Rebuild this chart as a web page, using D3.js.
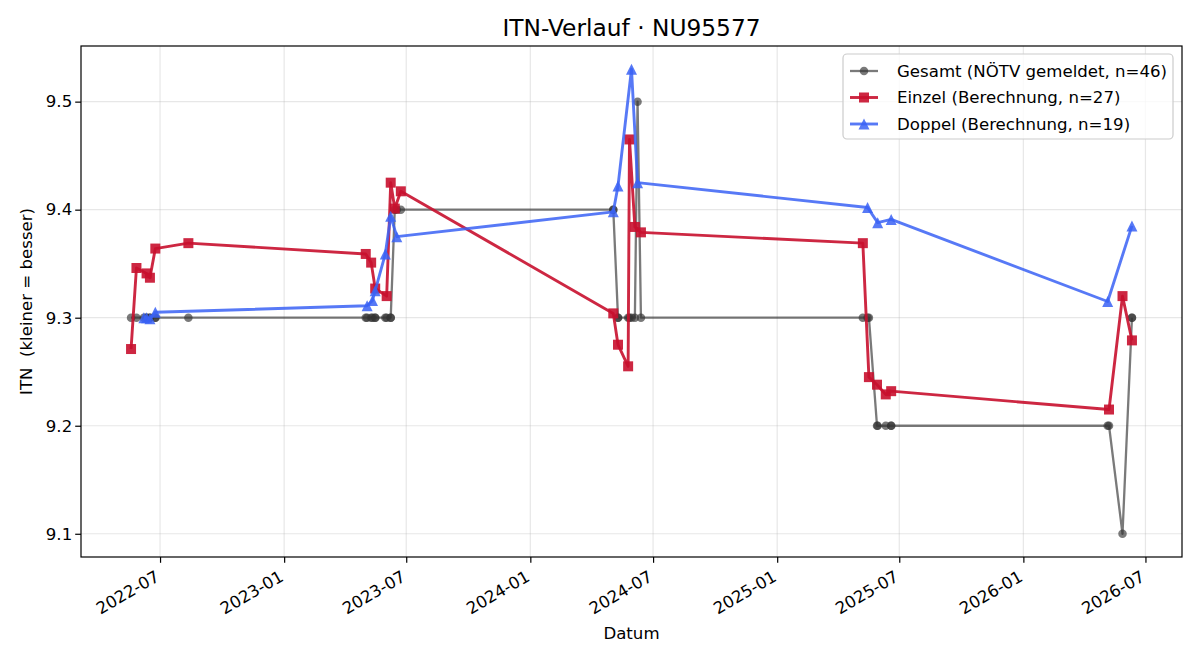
<!DOCTYPE html>
<html><head><meta charset="utf-8">
<script src="https://cdn.jsdelivr.net/npm/d3@7"></script>
<style>body{margin:0;background:#fff} svg{font-family:"DejaVu Sans",sans-serif;display:block}</style>
</head><body><svg id="c" width="1200" height="660"></svg>
<script>
const gesamtDates = [
 "2022-05-19","2022-05-27","2022-06-07","2022-06-11","2022-06-11","2022-06-16","2022-06-16","2022-06-24","2022-06-24","2022-08-12",
 "2023-05-02","2023-05-04","2023-05-10","2023-05-12","2023-05-16","2023-05-16","2023-05-31","2023-06-02","2023-06-08","2023-06-08","2023-06-14","2023-06-17","2023-06-23",
 "2024-05-03","2024-05-03","2024-05-10","2024-05-10","2024-05-25","2024-05-27","2024-05-30","2024-06-04","2024-06-08","2024-06-13",
 "2025-05-08","2025-05-15","2025-05-17","2025-05-29","2025-05-30","2025-06-11","2025-06-19","2025-06-19",
 "2026-05-06","2026-05-08","2026-05-28","2026-06-11","2026-06-11"];
const gesamtValues = [
 9.3,9.3,9.3,9.3,9.3,9.3,9.3,9.3,9.3,9.3,
 9.3,9.3,9.3,9.3,9.3,9.3,9.3,9.3,9.3,9.3,9.4,9.4,9.4,
 9.4,9.4,9.3,9.3,9.3,9.3,9.3,9.3,9.5,9.3,
 9.3,9.3,9.3,9.2,9.2,9.2,9.2,9.2,
 9.2,9.2,9.1,9.3,9.3];
const einzelDates = [
 "2022-05-19","2022-05-27","2022-06-11","2022-06-16","2022-06-24","2022-08-12",
 "2023-05-02","2023-05-10","2023-05-16","2023-06-02","2023-06-08","2023-06-14","2023-06-23",
 "2024-05-03","2024-05-10","2024-05-25","2024-05-27","2024-06-04","2024-06-13",
 "2025-05-08","2025-05-17","2025-05-29","2025-06-11","2025-06-19",
 "2026-05-08","2026-05-28","2026-06-11"];
const einzelValues = [
 9.271,9.346,9.341,9.337,9.364,9.369,
 9.359,9.351,9.327,9.320,9.425,9.401,9.417,
 9.304,9.275,9.255,9.465,9.384,9.379,
 9.369,9.245,9.238,9.229,9.232,
 9.215,9.320,9.279];
const doppelDates = [
 "2022-06-07","2022-06-11","2022-06-16","2022-06-24",
 "2023-05-04","2023-05-12","2023-05-16","2023-05-31","2023-06-08","2023-06-17",
 "2024-05-03","2024-05-10","2024-05-30","2024-06-08",
 "2025-05-15","2025-05-30","2025-06-19",
 "2026-05-06","2026-06-11"];
const doppelValues = [
 9.300,9.300,9.299,9.305,
 9.311,9.316,9.325,9.359,9.394,9.375,
 9.398,9.422,9.530,9.425,
 9.402,9.388,9.391,
 9.315,9.385];
const seriesLabels = ["Gesamt (NÖTV gemeldet, n=46)","Einzel (Berechnung, n=27)","Doppel (Berechnung, n=19)"];
const titleText = "ITN-Verlauf · NU95577";
const xLabel = "Datum";
const yLabel = "ITN  (kleiner = besser)";
const yTicks = [9.1,9.2,9.3,9.4,9.5];

const parse = d3.timeParse("%Y-%m-%d");
const mk = (ds, vs) => ds.map((d,i)=>({date:parse(d), v:vs[i]}));
const series = [
  {data: mk(gesamtDates,gesamtValues), color:"#333333", op:0.65, lw:2.3, marker:"o"},
  {data: mk(einzelDates,einzelValues), color:"#c8102e", op:0.9, lw:2.9, marker:"s"},
  {data: mk(doppelDates,doppelValues), color:"#3a62f5", op:0.85, lw:2.9, marker:"^"}
];

const L=81, R=1182, T=46, B=557;
const svg = d3.select("#c");
const all = series.flatMap(s=>s.data);
const xe = d3.extent(all, d=>d.date), ye = d3.extent(all, d=>d.v);
const xpad = (xe[1]-xe[0])*0.05, ypad=(ye[1]-ye[0])*0.05;
const x = d3.scaleTime().domain([new Date(+xe[0]-xpad), new Date(+xe[1]+xpad)]).range([L,R]);
const y = d3.scaleLinear().domain([ye[0]-ypad, ye[1]+ypad]).range([B,T]);

const xTicks = d3.timeMonth.every(6).range(x.domain()[0], x.domain()[1]);
const fmt = d3.timeFormat("%Y-%m");

// grid
const g = svg.append("g");
g.selectAll(".vx").data(xTicks).join("line")
  .attr("x1",d=>x(d)).attr("x2",d=>x(d)).attr("y1",T).attr("y2",B)
  .attr("stroke","#b0b0b0").attr("stroke-opacity",0.3).attr("stroke-width",1.2);
g.selectAll(".hy").data(yTicks).join("line")
  .attr("y1",d=>y(d)).attr("y2",d=>y(d)).attr("x1",L).attr("x2",R)
  .attr("stroke","#b0b0b0").attr("stroke-opacity",0.3).attr("stroke-width",1.2);

// axes
const xAxis = d3.axisBottom(x).tickValues(xTicks).tickFormat(fmt).tickSize(5.8).tickPadding(3);
const ax = svg.append("g").attr("transform",`translate(0,${B})`).call(xAxis);
ax.select(".domain").remove();
ax.selectAll(".tick line").attr("stroke","#000").attr("stroke-width",1.2);
ax.selectAll(".tick text").attr("font-size","16.6px").attr("fill","#000")
  .attr("text-anchor","end").attr("dy",null).attr("y",null)
  .attr("transform","translate(0,23) rotate(-30)");
const yAxis = d3.axisLeft(y).tickValues(yTicks).tickFormat(d3.format(".1f")).tickSize(5.8).tickPadding(3);
const ay = svg.append("g").attr("transform",`translate(${L},0)`).call(yAxis);
ay.select(".domain").remove();
ay.selectAll(".tick line").attr("stroke","#000").attr("stroke-width",1.2);
ay.selectAll(".tick text").attr("font-size","16.6px").attr("fill","#000");
svg.selectAll(".tick text").attr("font-family","DejaVu Sans");

// series
const line = d3.line().x(d=>x(d.date)).y(d=>y(d.v));
function markerPath(m, s){
  if(m==="s") return `M${-s/2},${-s/2}h${s}v${s}h${-s}Z`;
  if(m==="^") return `M0,${-s/2}L${s/2},${s/2}L${-s/2},${s/2}Z`;
  const r=s/2; return `M${r},0A${r},${r} 0 1,1 ${-r},0A${r},${r} 0 1,1 ${r},0Z`;
}
const msize = {o:8.5, s:10, "^":11};
series.forEach(s=>{
  const sg = svg.append("g");
  sg.append("path").datum(s.data).attr("d",line).attr("fill","none")
    .attr("stroke",s.color).attr("stroke-opacity",s.op).attr("stroke-width",s.lw)
    .attr("stroke-linejoin","round").attr("stroke-linecap","butt");
  sg.selectAll("path.m").data(s.data).join("path").attr("class","m")
    .attr("transform",d=>`translate(${x(d.date)},${y(d.v)})`)
    .attr("d",markerPath(s.marker, msize[s.marker]))
    .attr("fill",s.color).attr("fill-opacity",s.op);
});

// frame
svg.append("rect").attr("x",L).attr("y",T).attr("width",R-L).attr("height",B-T)
  .attr("fill","none").attr("stroke","#000").attr("stroke-width",1.2);

// labels
svg.append("text").attr("x",(L+R)/2).attr("y",36).attr("text-anchor","middle")
  .attr("font-size","23.3px").text(titleText);
svg.append("text").attr("x",(L+R)/2).attr("y",639).attr("text-anchor","middle")
  .attr("font-size","16.6px").text(xLabel);
svg.append("text").attr("transform",`translate(32,${(T+B)/2}) rotate(-90)`)
  .attr("text-anchor","middle").attr("font-size","16.6px")
  .style("white-space","pre").text(yLabel);

// legend
const lg = svg.append("g");
lg.append("rect").attr("x",843).attr("y",54).attr("width",330).attr("height",85).attr("rx",4)
  .attr("fill","#fff").attr("fill-opacity",0.8).attr("stroke","#cccccc").attr("stroke-width",1.2);
series.forEach((s,i)=>{
  const cy = 71 + i*26.5;
  lg.append("line").attr("x1",850).attr("x2",878).attr("y1",cy).attr("y2",cy)
    .attr("stroke",s.color).attr("stroke-opacity",s.op).attr("stroke-width",s.lw);
  lg.append("path").attr("transform",`translate(864,${cy})`).attr("d",markerPath(s.marker,msize[s.marker]))
    .attr("fill",s.color).attr("fill-opacity",s.op);
  lg.append("text").attr("x",897).attr("y",cy).attr("dy","0.35em").attr("font-size","16.6px").text(seriesLabels[i]);
});
</script>
</body></html>
